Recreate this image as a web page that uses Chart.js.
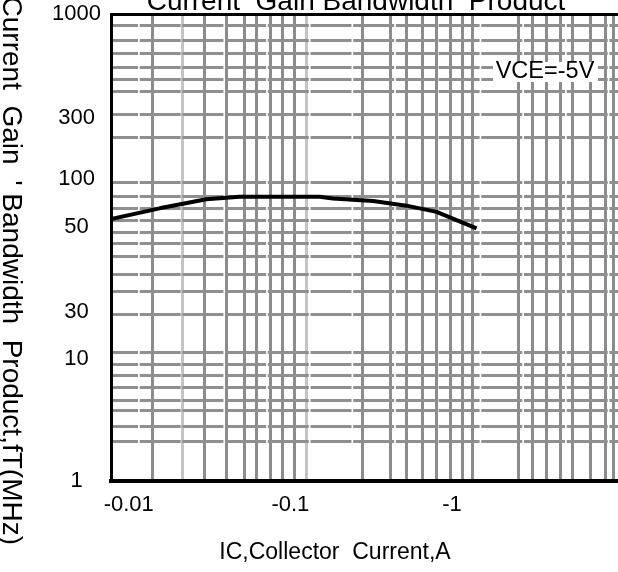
<!DOCTYPE html>
<html lang="en">
<head>
<meta charset="UTF-8" />
<title>Current Gain Bandwidth Product</title>
<script src="https://cdn.jsdelivr.net/npm/chart.js"></script>
<style>
  html, body { margin: 0; padding: 0; background: #fff; overflow: hidden; }
  #wrap { width: 618px; height: 572px; }
</style>
</head>
<body>
<div id="wrap"><canvas id="fT" width="618" height="572"></canvas></div>
<script>
// |IC| in A (the sheet prints the currents as negative numbers)
const IC_A   = [0.00777, 0.01552, 0.0302, 0.0485, 0.1518, 0.183, 0.3247, 0.5229, 0.8017, 0.969, 1.418];
const FT_MHZ = [55.9, 65.3, 74.5, 77.3, 77.3, 75.3, 72.7, 67.9, 62.0, 57.3, 49.5];

const X_TICKS = [0.01, 0.1, 1];
const X_TICK_TEXT = ['-0.01', '-0.1', '-1'];
const X_GRID = [0.01398, 0.02947, 0.04016, 0.05212, 0.0616, 0.07518, 0.08923, 0.1053,
  0.2791, 0.418, 0.5229, 0.653, 0.8052, 0.9831, 1.1665, 1.3398,
  2.592, 3.151, 3.864, 4.684, 5.574, 7.204, 8.834, 10.04];
const X_GRID_LIGHT = [0.02153, 0.1261];

const Y_TICKS = [1, 10, 30, 50, 100, 300, 1000];
const Y_GRID = [2.09, 2.82, 3.8, 4.61, 5.79, 7.26, 9.1, 11.7, 28.4, 33.8, 37.6, 41.9, 45.1,
  48.3, 55.1, 65.3, 78.1, 95.3, 210, 313, 407, 466, 537, 634, 740, 873];

// the printed y axis is not a true log scale: every label sits at its own
// place along the axis (0 = bottom, 1 = top), log-interpolated in between
const Y_TICK_AT = [0, 0.2612, 0.3625, 0.5445, 0.6467, 0.7773, 1];

const TITLE = 'Current  Gain Bandwidth  Product';
const Y_TITLE = "Current  Gain  ' Bandwidth  Product,fT(MHz)";
const X_TITLE = 'IC,Collector  Current,A';
const NOTE = 'VCE=-5V';

const FONT = '"Liberation Sans", Arial, sans-serif';

class SheetScale extends Chart.LinearScale {
  toDecimal(v) {
    let i = 0;
    while (i < Y_TICKS.length - 2 && v > Y_TICKS[i + 1]) i++;
    const a = Math.log10(Y_TICKS[i]), b = Math.log10(Y_TICKS[i + 1]);
    return Y_TICK_AT[i] + (Math.log10(v) - a) / (b - a) * (Y_TICK_AT[i + 1] - Y_TICK_AT[i]);
  }
  getPixelForValue(v) {
    if (v === null || v === undefined || isNaN(v)) return NaN;
    return this.getPixelForDecimal(this.toDecimal(v));
  }
  getValueForPixel(p) {
    const d = this.getDecimalForPixel(p);
    let i = 0;
    while (i < Y_TICK_AT.length - 2 && d > Y_TICK_AT[i + 1]) i++;
    const a = Math.log10(Y_TICKS[i]), b = Math.log10(Y_TICKS[i + 1]);
    const t = (d - Y_TICK_AT[i]) / (Y_TICK_AT[i + 1] - Y_TICK_AT[i]);
    return Math.pow(10, a + t * (b - a));
  }
}
SheetScale.id = 'sheet';
SheetScale.defaults = {};
Chart.register(SheetScale);

const sheetText = {
  id: 'sheetText',
  afterDraw(chart) {
    const ctx = chart.ctx;
    ctx.save();
    ctx.fillStyle = '#000';
    ctx.textAlign = 'center';
    ctx.textBaseline = 'alphabetic';

    ctx.font = '28px ' + FONT;
    ctx.fillText(TITLE, 356, 10);

    ctx.font = '23px ' + FONT;
    ctx.fillText(X_TITLE, 335, 559);

    // note box
    ctx.fillStyle = '#fff';
    ctx.fillRect(493, 62, 105, 20);
    ctx.fillStyle = '#000';
    ctx.font = '23.5px ' + FONT;
    ctx.textBaseline = 'middle';
    ctx.fillText(NOTE, 545, 72);

    // y title, reads top to bottom
    ctx.save();
    ctx.font = '28px ' + FONT;
    ctx.translate(3, 545);
    ctx.rotate(Math.PI / 2);
    ctx.textAlign = 'right';
    ctx.textBaseline = 'alphabetic';
    ctx.fillText(Y_TITLE, 0, 0);
    ctx.restore();

    ctx.restore();
  }
};

const noPad = s => { s.paddingLeft = 0; s.paddingRight = 0; s.paddingTop = 0; s.paddingBottom = 0; };

Chart.defaults.font.family = FONT;
Chart.defaults.color = '#000';

new Chart(document.getElementById('fT'), {
  type: 'line',
  data: {
    datasets: [{
      data: IC_A.map((x, i) => ({ x: x, y: FT_MHZ[i] })),
      borderColor: '#000',
      borderWidth: 4,
      pointRadius: 0,
      tension: 0,
      borderJoinStyle: 'round'
    }]
  },
  options: {
    responsive: false,
    animation: false,
    devicePixelRatio: 1,
    layout: { padding: 0 },
    plugins: { legend: { display: false }, tooltip: { enabled: false } },
    scales: {
      x: {
        type: 'logarithmic',
        position: 'bottom',
        bounds: 'data',
        min: 0.00777,
        max: 10.63,
        afterBuildTicks: s => {
          s.ticks = [...X_TICKS, ...X_GRID, ...X_GRID_LIGHT].sort((a, b) => a - b).map(v => ({ value: v }));
        },
        afterFit: s => { s.height = 91; noPad(s); },
        ticks: {
          autoSkip: false,
          maxRotation: 0,
          minRotation: 0,
          padding: 11,
          font: { size: 22 },
          callback: v => {
            const i = X_TICKS.indexOf(v);
            return i >= 0 ? X_TICK_TEXT[i] : '';
          }
        },
        grid: {
          drawTicks: false,
          lineWidth: 3,
          color: c => {
            const v = c.tick && c.tick.value;
            if (X_GRID_LIGHT.includes(v)) return '#c4c4c4';
            return X_GRID.includes(v) ? '#8c8c8c' : 'transparent';
          }
        },
        border: { display: true, color: '#000', width: 4 }
      },
      x2: {
        type: 'linear',
        position: 'top',
        afterFit: s => { s.height = 14; noPad(s); },
        ticks: { display: false },
        grid: { display: false, drawTicks: false },
        border: { display: true, color: '#000', width: 3 }
      },
      y: {
        type: 'sheet',
        position: 'left',
        bounds: 'data',
        min: 1,
        max: 1000,
        afterBuildTicks: s => {
          s.ticks = [...Y_TICKS, ...Y_GRID].sort((a, b) => a - b).map(v => ({ value: v }));
        },
        afterFit: s => { s.width = 111; noPad(s); },
        ticks: {
          autoSkip: false,
          crossAlign: 'center',
          padding: 10,
          font: { size: 22 },
          callback: v => (Y_TICKS.includes(v) ? String(v) : '')
        },
        grid: {
          drawTicks: false,
          lineWidth: 3,
          color: c => (Y_GRID.includes(c.tick && c.tick.value) ? '#8f8f8f' : 'transparent')
        },
        border: { display: true, color: '#000', width: 3, dash: [41, 1.7], dashOffset: 16 }
      }
    }
  },
  plugins: [sheetText]
});
</script>
</body>
</html>
